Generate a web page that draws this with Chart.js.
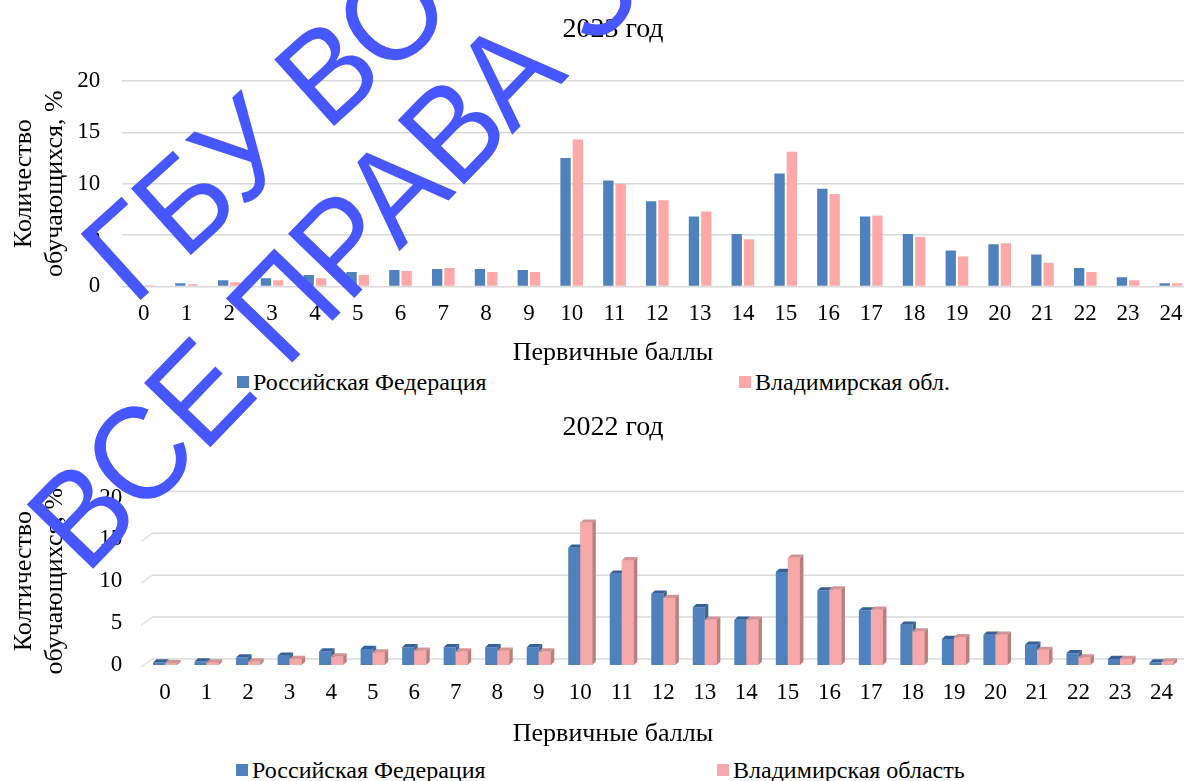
<!DOCTYPE html>
<html lang="ru">
<head>
<meta charset="utf-8">
<title>Распределение первичных баллов</title>
<script src="https://cdn.jsdelivr.net/npm/chart.js@4.4.0/dist/chart.umd.min.js"></script>
<style>
  html, body { margin: 0; padding: 0; background: #fff; overflow: hidden; }
  body { position: relative; width: 1184px; height: 781px; font-family: "Liberation Serif", Tinos, "Times New Roman", serif; }
  canvas { position: absolute; left: 0; }
  #chart2023 { top: 0; }
  #chart2022 { top: 400px; }
  .legend-box { position: absolute; width: 12px; height: 12px; }
  .legend-text { position: absolute; font-size: 24px; line-height: 24px; color: #000; white-space: nowrap; }
  #stamp { position: absolute; left: 0; top: 0; pointer-events: none; }
</style>
</head>
<body>
<canvas id="chart2023" width="1226" height="369"></canvas>
<canvas id="chart2022" width="1226" height="350"></canvas>
<div id="legend2023"></div>
<div id="legend2022"></div>
<svg id="stamp" width="1184" height="781" viewBox="0 0 1184 781">
  <g font-family="Liberation Sans, Arial, sans-serif" fill="#4657FF">
    <text font-size="130" transform="translate(133 307) rotate(-42) scale(0.96 1)">ГБУ ВО ВИРО</text>
    <text font-size="134" transform="translate(86 576) rotate(-46) scale(0.93 1)">ВСЕ ПРАВА ЗАЩИЩЕНЫ</text>
  </g>
</svg>
<script>
// первичные баллы 0..24
const scoreLabels = ["0", "1", "2", "3", "4", "5", "6", "7", "8", "9", "10", "11", "12",
    "13", "14", "15", "16", "17", "18", "19", "20", "21", "22", "23", "24"];

// доля участников, %
const rf2023 = [0.1, 0.3, 0.6, 0.8, 1.1, 1.4, 1.6, 1.7, 1.7, 1.6, 12.5, 10.3, 8.3,
    6.8, 5.1, 11.0, 9.5, 6.8, 5.1, 3.5, 4.1, 3.1, 1.8, 0.9, 0.3];
const vo2023 = [0.1, 0.2, 0.4, 0.6, 0.8, 1.1, 1.5, 1.8, 1.4, 1.4, 14.3, 10.0, 8.4,
    7.3, 4.6, 13.1, 9.0, 6.9, 4.8, 2.9, 4.2, 2.3, 1.4, 0.6, 0.3];

const rf2022 = [0.3, 0.4, 0.9, 1.1, 1.6, 1.9, 2.1, 2.1, 2.1, 2.1, 14.0, 10.9, 8.5,
    6.9, 5.4, 11.1, 8.9, 6.5, 4.8, 3.1, 3.6, 2.4, 1.4, 0.7, 0.3];
const vo2022 = [0.2, 0.3, 0.4, 0.7, 1.0, 1.5, 1.7, 1.6, 1.7, 1.6, 17.0, 12.5, 8.0,
    5.4, 5.4, 12.8, 9.0, 6.6, 4.0, 3.3, 3.6, 1.8, 0.9, 0.7, 0.4];

const yAxisMax = 20;
const yAxisStep = 5;

const BLUE = "#4F81BD";
const PINK_2023 = "#FFA8A8";
const PINK_2022 = "#F7A9A9";
const GRID = "#d9d9d9";
const SERIF = '"Liberation Serif", Tinos, "Times New Roman", serif';

Chart.defaults.font.family = SERIF;
Chart.defaults.color = "#000";

// -----------------------------
// 3D columns for the 2022 chart
// -----------------------------
const columnDepth = {
    id: "columnDepth",
    beforeDatasetsDraw(chart, args, opts) {
        const { ctx, chartArea, scales: { y } } = chart;
        ctx.save();
        ctx.lineWidth = 1.5;
        y.ticks.forEach((tick) => {
            const py = y.getPixelForValue(tick.value);
            ctx.strokeStyle = "#e2e2e2";
            ctx.beginPath();
            ctx.moveTo(chartArea.left - 3, py + 2);
            ctx.lineTo(chartArea.left + opts.wallX, py - opts.wallY);
            ctx.stroke();
            ctx.strokeStyle = GRID;
            ctx.beginPath();
            ctx.moveTo(chartArea.left + opts.wallX, py - opts.wallY);
            ctx.lineTo(chartArea.right + opts.wallX, py - opts.wallY);
            ctx.stroke();
        });
        ctx.restore();
    },
    afterDatasetsDraw(chart, args, opts) {
        const ctx = chart.ctx;
        const dx = opts.depthX, dy = opts.depthY;
        ctx.save();
        chart.data.datasets.forEach((ds, i) => {
            const shade = opts.shades[i];
            chart.getDatasetMeta(i).data.forEach((bar) => {
                // front face again so it hides the neighbour's side
                if (i > 0) bar.draw(ctx);
                const { x, y, base, width } = bar.getProps(["x", "y", "base", "width"], true);
                const l = x - width / 2, r = x + width / 2;
                ctx.fillStyle = shade.top;
                ctx.beginPath();
                ctx.moveTo(l, y);
                ctx.lineTo(l + dx, y - dy);
                ctx.lineTo(r + dx, y - dy);
                ctx.lineTo(r, y);
                ctx.closePath();
                ctx.fill();
                ctx.fillStyle = shade.side;
                ctx.beginPath();
                ctx.moveTo(r, y);
                ctx.lineTo(r + dx, y - dy);
                ctx.lineTo(r + dx, base - dy);
                ctx.lineTo(r, base);
                ctx.closePath();
                ctx.fill();
            });
        });
        ctx.restore();
    },
};

function buildChart(canvasId, cfg) {
    return new Chart(document.getElementById(canvasId), {
        type: "bar",
        data: {
            labels: scoreLabels,
            datasets: [
                {
                    label: cfg.labels[0],
                    data: cfg.series[0],
                    backgroundColor: cfg.colors[0],
                    categoryPercentage: cfg.categoryPercentage,
                    barPercentage: cfg.barPercentage,
                },
                {
                    label: cfg.labels[1],
                    data: cfg.series[1],
                    backgroundColor: cfg.colors[1],
                    categoryPercentage: cfg.categoryPercentage,
                    barPercentage: cfg.barPercentage,
                },
            ],
        },
        plugins: cfg.plugins || [],
        options: {
            responsive: false,
            animation: false,
            layout: { padding: { left: cfg.padLeft, right: cfg.padRight, top: 0, bottom: 0 } },
            plugins: {
                legend: { display: false },
                tooltip: { enabled: false },
                title: {
                    display: true,
                    text: cfg.title,
                    font: { size: 28, weight: "normal", lineHeight: 1.2 },
                    padding: { top: cfg.titlePad[0], bottom: cfg.titlePad[1] },
                },
                subtitle: {
                    display: true,
                    position: "bottom",
                    text: "Первичные баллы",
                    font: { size: 26, weight: "normal", lineHeight: 1.2 },
                    padding: { top: cfg.subtitlePad, bottom: 0 },
                },
                columnDepth: cfg.depth,
            },
            scales: {
                x: {
                    grid: { display: false, drawTicks: false },
                    border: { display: false },
                    ticks: { font: { size: 23 }, padding: cfg.xTickPad, maxRotation: 0, autoSkip: false },
                    afterFit(scale) { scale.height = 40; },
                },
                y: {
                    min: 0,
                    max: yAxisMax,
                    ticks: { stepSize: yAxisStep, font: { size: 23 }, padding: 22 },
                    grid: { display: cfg.flatGrid, color: GRID, lineWidth: 1.5, drawTicks: false },
                    border: { display: false },
                    title: {
                        display: true,
                        text: cfg.yTitle,
                        font: { size: 26, lineHeight: 1.2 },
                        padding: { top: cfg.yTitlePad, bottom: 0 },
                    },
                    afterFit(scale) { scale.width = cfg.yWidth; },
                },
            },
        },
    });
}

buildChart("chart2023", {
    title: "2023 год",
    labels: ["Российская Федерация", "Владимирская обл."],
    series: [rf2023, vo2023],
    colors: [BLUE, PINK_2023],
    categoryPercentage: 0.575,
    barPercentage: 0.84,
    padLeft: 33.7,
    padRight: 33.7,
    yWidth: 88.6,
    yTitlePad: -25.3,
    yTitle: ["Количество", "обучающихся, %"],
    titlePad: [13.2, 34.2],
    subtitlePad: 11.4,
    xTickPad: 14.2,
    flatGrid: true,
});

buildChart("chart2022", {
    title: "2022 год",
    labels: ["Российская Федерация", "Владимирская область"],
    series: [rf2022, vo2022],
    colors: [BLUE, PINK_2022],
    categoryPercentage: 0.58,
    barPercentage: 1,
    padLeft: 43.7,
    padRight: 43.7,
    yWidth: 100.6,
    yTitlePad: -35.3,
    yTitle: ["Колтичество", "обучающихся, %"],
    titlePad: [11.2, 52.7],
    subtitlePad: 13.9,
    xTickPad: 14.4,
    flatGrid: false,
    plugins: [columnDepth],
    depth: {
        depthX: 3.5,
        depthY: 3.2,
        wallX: 8,
        wallY: 6,
        shades: [
            { top: "#35609A", side: "#3C6595" },
            { top: "#D49494", side: "#BC7E7E" },
        ],
    },
});

// -----------------------------
// Legends under each chart
// -----------------------------
function buildLegend(holderId, labels, colors, starts, centerY) {
    const holder = document.getElementById(holderId);
    labels.forEach((text, i) => {
        const box = document.createElement("div");
        box.className = "legend-box";
        box.style.left = starts[i] + "px";
        box.style.top = (centerY - 6) + "px";
        box.style.background = colors[i];
        holder.appendChild(box);
        const span = document.createElement("div");
        span.className = "legend-text";
        span.style.left = (starts[i] + 16) + "px";
        span.style.top = (centerY - 12) + "px";
        span.textContent = text;
        holder.appendChild(span);
    });
}

buildLegend("legend2023", ["Российская Федерация", "Владимирская обл."], [BLUE, PINK_2023], [237, 739], 382);
buildLegend("legend2022", ["Российская Федерация", "Владимирская область"], [BLUE, PINK_2022], [236, 717], 770);
</script>
</body>
</html>
